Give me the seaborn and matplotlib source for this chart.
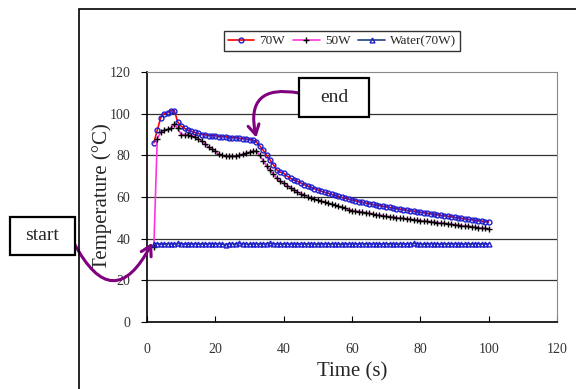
import numpy as np
import pandas as pd
import seaborn as sns
import matplotlib.pyplot as plt
from matplotlib.patches import Rectangle

# time axis: one reading per second
time_s = np.arange(2, 101)

temp_70w = [86, 92, 98, 100, 100.5, 101.5, 101.5, 96, 94, 93,
            92, 91.5, 91, 90.5, 90, 90, 89.5, 89.5, 89.5, 89,
            89, 89, 88.5, 88.5, 88.5, 88.2, 88, 88, 87.5, 87.3,
            86.5, 84.5, 82.5, 80, 77.8, 75.5, 73, 72, 71.5, 70,
            69, 68.2, 67.5, 66.8, 66, 65.3, 64.6, 64, 63.4, 62.8,
            62.3, 61.8, 61.3, 60.8, 60.3, 59.8, 59.4, 59, 58.6, 58.2,
            57.8, 57.5, 57.1, 56.8, 56.5, 56.2, 55.9, 55.6, 55.3, 55,
            54.7, 54.4, 54.2, 53.9, 53.7, 53.4, 53.2, 53, 52.7, 52.5,
            52.2, 52, 51.7, 51.5, 51.2, 51, 50.8, 50.5, 50.3, 50,
            49.8, 49.5, 49.3, 49.1, 48.9, 48.6, 48.4, 48.2, 48]

temp_50w = [36, 88, 91, 92, 92.5, 93, 95, 93, 90, 90,
            90, 89.5, 89, 88, 87, 85.5, 84, 83, 82, 80.5,
            80, 79.5, 79.5, 79.5, 79.5, 80, 80.5, 81, 81.5, 82,
            82, 80, 77.5, 75, 73, 71, 69, 67.5, 66.5, 65.5,
            64.5, 63.5, 62.5, 61.5, 61, 60, 59.5, 59, 58.5, 58,
            57.5, 57, 56.5, 56, 55.5, 55, 54.5, 54, 53.5, 53.2,
            53, 52.7, 52.4, 52.1, 51.8, 51.5, 51.3, 51, 50.8, 50.5,
            50.3, 50.1, 49.9, 49.7, 49.5, 49.3, 49.1, 48.9, 48.7, 48.5,
            48.3, 48.1, 47.9, 47.7, 47.5, 47.3, 47.1, 46.9, 46.7, 46.5,
            46.3, 46.1, 45.9, 45.7, 45.5, 45.3, 45.1, 44.9, 44.7]

temp_water = [37.5, 37.6, 37.5, 37.4, 37.6, 37.5, 37.5, 37.7, 37.6, 37.5,
              37.4, 37.5, 37.6, 37.5, 37.5, 37.4, 37.6, 37.5, 37.5, 37.6,
              37.4, 37.2, 37.5, 37.6, 37.5, 37.7, 37.6, 37.5, 37.4, 37.5,
              37.6, 37.5, 37.5, 37.6, 37.7, 37.6, 37.5, 37.4, 37.5, 37.6,
              37.5, 37.5, 37.4, 37.6, 37.5, 37.5, 37.6, 37.5, 37.4, 37.5,
              37.6, 37.5, 37.5, 37.6, 37.5, 37.3, 37.5, 37.6, 37.5, 37.5,
              37.4, 37.6, 37.5, 37.5, 37.6, 37.5, 37.4, 37.5, 37.6, 37.5,
              37.5, 37.4, 37.6, 37.5, 37.5, 37.6, 37.7, 37.6, 37.5, 37.4,
              37.5, 37.6, 37.5, 37.5, 37.4, 37.6, 37.5, 37.5, 37.6, 37.5,
              37.4, 37.5, 37.6, 37.5, 37.5, 37.6, 37.5, 37.4, 37.5]

x_ticks = [0, 20, 40, 60, 80, 100, 120]
y_ticks = [0, 20, 40, 60, 80, 100, 120]

sns.set_style('ticks')
plt.rcParams['font.family'] = ['Liberation Serif', 'DejaVu Serif']

W, H = 576, 389
fig = plt.figure(figsize=(W / 100, H / 100), dpi=100)
ax = fig.add_axes([147 / W, 1 - 322 / H, 410 / W, 250 / H])

# outer chart frame (partly cut off in the original)
fig.add_artist(Rectangle((79 / W, -0.2), 1.0, 1.2 - 9 / H, transform=fig.transFigure,
                         fill=False, edgecolor='black', linewidth=1.2, clip_on=False))

sns.lineplot(x=time_s, y=temp_70w, ax=ax, color='red', linewidth=1.2,
             marker='o', markersize=3.5, markerfacecolor='none',
             markeredgecolor='#1f1fd0', markeredgewidth=1.0, label='70W')
sns.lineplot(x=time_s, y=temp_50w, ax=ax, color='#ff33dd', linewidth=1.2,
             marker='+', markersize=5, markeredgecolor='black',
             markeredgewidth=1.0, label='50W')
sns.lineplot(x=time_s, y=temp_water, ax=ax, color='#1f3f7f', linewidth=1.2,
             marker='^', markersize=3.5, markerfacecolor='none',
             markeredgecolor='#1f1fd0', markeredgewidth=1.0, label='Water(70W)')

ax.set_xlim(0, 120)
ax.set_ylim(0, 120)
ax.set_xticks(x_ticks)
ax.set_yticks(y_ticks)
ax.tick_params(axis='x', direction='in', length=4, colors='black', labelcolor='#333333',
               labelsize=10, pad=15)
ax.tick_params(axis='y', direction='out', length=4, colors='black', labelcolor='#333333',
               labelsize=10, pad=8)
for y in [20, 40, 60, 80, 100]:
    ax.axhline(y, color='#333333', linewidth=0.9, zorder=0)
for side in ['top', 'right']:
    ax.spines[side].set_color('#888888')
for side in ['left', 'bottom']:
    ax.spines[side].set_color('black')
    ax.spines[side].set_linewidth(1.2)

ax.set_xlabel('Time (s)', fontsize=15)
ax.set_ylabel('Temperature (°C)', fontsize=15)
ax.xaxis.set_label_coords(0.5, -(372 - 322) / 250, transform=ax.transAxes)
ax.yaxis.set_label_coords(-(147 - 102) / 410, 0.5, transform=ax.transAxes)
ax.xaxis.label.set_va('center')
ax.yaxis.label.set_va('center')

leg = ax.legend(loc='center', bbox_to_anchor=(342 / W, 1 - 41 / H),
                bbox_transform=fig.transFigure, ncol=3, fontsize=9.5,
                frameon=True, fancybox=False, edgecolor='black',
                handlelength=2.0, handletextpad=0.4, columnspacing=0.6,
                borderpad=0.3)
leg.get_frame().set_linewidth(1.0)

# start / end label boxes
for (x0, y0, x1, y1), txt in [((10, 217, 75, 255), 'start'), ((299, 78, 369, 117), 'end')]:
    fig.add_artist(Rectangle((x0 / W, 1 - y1 / H), (x1 - x0) / W, (y1 - y0) / H,
                             transform=fig.transFigure, facecolor='white',
                             edgecolor='black', linewidth=1.6, zorder=5))
    fig.text((x0 + x1) / 2 / W, 1 - (y0 + y1) / 2 / H, txt, ha='center', va='center',
             fontsize=14, zorder=6)

# curved purple arrows
arrow_kw = dict(arrowstyle='->,head_length=0.7,head_width=0.4', color='#800080', lw=2.2,
                shrinkA=0, shrinkB=0)
ax.annotate('', xy=(1.5, 38), xycoords='data',
            xytext=(74 / W, 1 - 243 / H), textcoords='figure fraction',
            arrowprops=dict(connectionstyle='arc3,rad=0.95', **arrow_kw),
            annotation_clip=False)
ax.annotate('', xy=(32, 88.5), xycoords='data',
            xytext=(299 / W, 1 - 93 / H), textcoords='figure fraction',
            arrowprops=dict(connectionstyle='arc3,rad=0.75', **arrow_kw),
            annotation_clip=False)

fig.savefig('out.png', dpi=100)
